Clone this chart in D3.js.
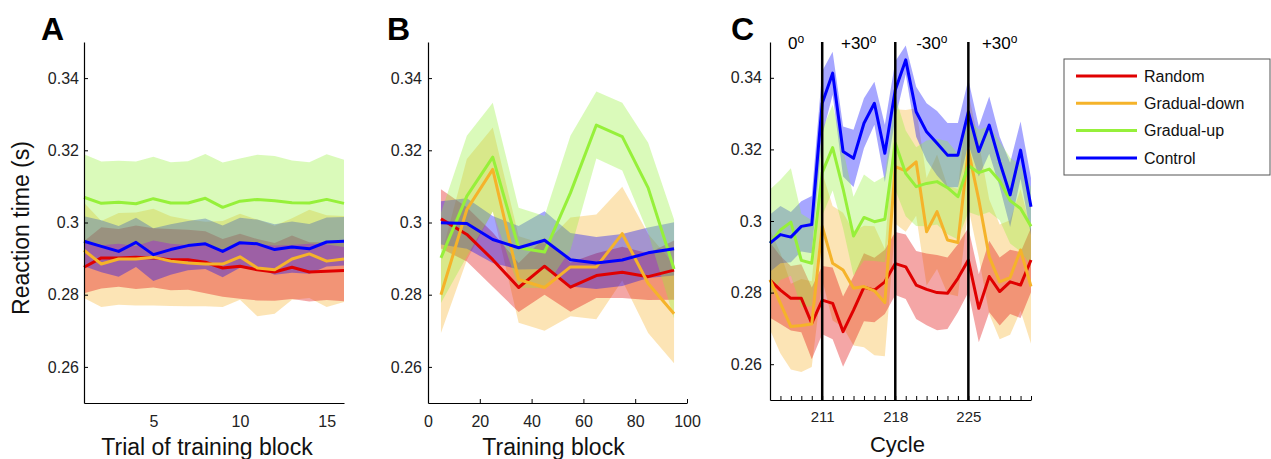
<!DOCTYPE html>
<html>
<head>
<meta charset="utf-8">
<script src="https://cdn.jsdelivr.net/npm/d3@7"></script>
<style>
  body { margin: 0; background: #fff; }
  svg { font-family: "Liberation Sans", Arial, sans-serif; }
</style>
</head>
<body>
<svg id="chart" width="1271" height="459"></svg>
<script>
// ---- data ----
var groups = ['Random', 'Gradual-down', 'Gradual-up', 'Control']
var yTicks = [0.26, 0.28, 0.3, 0.32, 0.34]

// A: trial of training block
var trialsA = [1, 2, 3, 4, 5, 6, 7, 8, 9, 10, 11, 12, 13, 14, 15, 16]
var randomA   = [0.2876, 0.2902, 0.2902, 0.2904, 0.2902, 0.2897, 0.2897, 0.2890, 0.2874, 0.2879, 0.2869, 0.2863, 0.2876, 0.2863, 0.2865, 0.2867]
var randomSeA = [0.0072, 0.0085, 0.0080, 0.0088, 0.0082, 0.0085, 0.0083, 0.0086, 0.0080, 0.0090, 0.0085, 0.0080, 0.0088, 0.0082, 0.0080, 0.0085]
var downA     = [0.2923, 0.2885, 0.2899, 0.2899, 0.2904, 0.2893, 0.2888, 0.2885, 0.2885, 0.2905, 0.2874, 0.2869, 0.2899, 0.2913, 0.2893, 0.2899]
var downSeA   = [0.0132, 0.0119, 0.0127, 0.0129, 0.0134, 0.0124, 0.0120, 0.0117, 0.0119, 0.0119, 0.0134, 0.0122, 0.0113, 0.0122, 0.0127, 0.0119]
var upA       = [0.3070, 0.3053, 0.3056, 0.3052, 0.3066, 0.3054, 0.3054, 0.3067, 0.3042, 0.3059, 0.3064, 0.3060, 0.3055, 0.3054, 0.3064, 0.3053]
var upSeA     = [0.0119, 0.0116, 0.0115, 0.0117, 0.0116, 0.0113, 0.0116, 0.0123, 0.0124, 0.0118, 0.0124, 0.0124, 0.0117, 0.0113, 0.0125, 0.0121]
var controlA   = [0.2948, 0.2934, 0.2920, 0.2945, 0.2911, 0.2925, 0.2936, 0.2941, 0.2920, 0.2944, 0.2941, 0.2925, 0.2932, 0.2927, 0.2946, 0.2948]
var controlSeA = [0.0069, 0.0072, 0.0070, 0.0068, 0.0073, 0.0070, 0.0068, 0.0070, 0.0072, 0.0069, 0.0067, 0.0070, 0.0071, 0.0069, 0.0068, 0.0067]
var xTicksA = [5, 10, 15]

// B: training block
var blocksB = [5, 15, 25, 35, 45, 55, 65, 75, 85, 95]
var randomB    = [0.3010, 0.2967, 0.2897, 0.2820, 0.2879, 0.2821, 0.2853, 0.2862, 0.2850, 0.2868]
var randomSeB  = [0.0082, 0.0075, 0.0075, 0.0068, 0.0079, 0.0068, 0.0062, 0.0071, 0.0065, 0.0082]
var downB      = [0.2800, 0.3036, 0.3147, 0.2842, 0.2820, 0.2877, 0.2877, 0.2969, 0.2831, 0.2747]
var downSeB    = [0.0106, 0.0140, 0.0116, 0.0120, 0.0120, 0.0137, 0.0145, 0.0130, 0.0137, 0.0137]
var upB        = [0.2902, 0.3073, 0.3181, 0.2930, 0.2918, 0.3082, 0.3270, 0.3238, 0.3096, 0.2871]
var upSeB      = [0.0125, 0.0167, 0.0151, 0.0111, 0.0100, 0.0158, 0.0093, 0.0094, 0.0125, 0.0137]
var controlB   = [0.2999, 0.2997, 0.2953, 0.2930, 0.2951, 0.2897, 0.2888, 0.2896, 0.2916, 0.2927]
var controlSeB = [0.0060, 0.0070, 0.0065, 0.0060, 0.0080, 0.0074, 0.0072, 0.0072, 0.0070, 0.0074]
var xTicksB = [0, 20, 40, 60, 80, 100]

// C: cycle
var cyclesC = [206, 207, 208, 209, 210, 211, 212, 213, 214, 215, 216, 217, 218,
               219, 220, 221, 222, 223, 224, 225, 226, 227, 228, 229, 230, 231]
var randomC    = [0.2835, 0.2807, 0.2784, 0.2784, 0.2714, 0.2779, 0.2770, 0.2691, 0.2751, 0.2815, 0.2807, 0.2830, 0.2881,
                  0.2872, 0.2821, 0.2809, 0.2800, 0.2798, 0.2840, 0.2891, 0.2756, 0.2845, 0.2803, 0.2830, 0.2821, 0.2891]
var randomSeC  = [0.0105, 0.0095, 0.0090, 0.0095, 0.0100, 0.0095, 0.0100, 0.0098, 0.0095, 0.0095, 0.0090, 0.0090, 0.0088,
                  0.0090, 0.0095, 0.0100, 0.0105, 0.0100, 0.0095, 0.0090, 0.0095, 0.0100, 0.0095, 0.0090, 0.0092, 0.0090]
var downC      = [0.2836, 0.2770, 0.2705, 0.2708, 0.2712, 0.2985, 0.2882, 0.2863, 0.2812, 0.2817, 0.2805, 0.2772, 0.3152,
                  0.3140, 0.3165, 0.2970, 0.3026, 0.2947, 0.2940, 0.3198, 0.3059, 0.2900, 0.2830, 0.2842, 0.2919, 0.2817]
var downSeC    = [0.014, 0.014, 0.012, 0.013, 0.012, 0.015, 0.016, 0.016, 0.016, 0.017, 0.018, 0.015, 0.016,
                  0.017, 0.015, 0.015, 0.016, 0.015, 0.015, 0.016, 0.016, 0.016, 0.016, 0.016, 0.017, 0.016]
var upC        = [0.2938, 0.2975, 0.2997, 0.2890, 0.2882, 0.3135, 0.3205, 0.3090, 0.2958, 0.3010, 0.2998, 0.3005, 0.3217,
                  0.3133, 0.3096, 0.3105, 0.3110, 0.3093, 0.3068, 0.3155, 0.3135, 0.3145, 0.3112, 0.3057, 0.3035, 0.2985]
var upSeC      = [0.015, 0.014, 0.015, 0.013, 0.012, 0.012, 0.012, 0.011, 0.011, 0.012, 0.011, 0.012, 0.013,
                  0.012, 0.011, 0.012, 0.012, 0.013, 0.012, 0.013, 0.012, 0.012, 0.011, 0.012, 0.012, 0.011]
var controlC   = [0.2938, 0.2962, 0.2955, 0.2985, 0.2990, 0.3329, 0.3413, 0.3194, 0.3175, 0.3273, 0.3329, 0.3189, 0.3366,
                  0.3450, 0.3305, 0.3249, 0.3217, 0.3184, 0.3184, 0.3305, 0.3194, 0.3268, 0.3165, 0.3073, 0.3198, 0.3040]
var controlSeC = [0.008, 0.008, 0.007, 0.007, 0.008, 0.009, 0.006, 0.007, 0.008, 0.007, 0.006, 0.008, 0.008,
                  0.004, 0.007, 0.008, 0.009, 0.009, 0.009, 0.009, 0.007, 0.008, 0.007, 0.009, 0.008, 0.008]
var xTicksC = [211, 218, 225]
var phaseEdges = [206, 211, 218, 225, 231]
var phaseLabels = ['0', '+30', '-30', '+30']

var colors = ['#e00000', '#f5b32a', '#96f03a', '#0000ff']
var bandOpacity = 0.35
// stacking of the shaded bands: gradual-down, random, control, gradual-up
var bandOrder = [1, 0, 3, 2]

var svg = d3.select('#chart')

function drawPanel(p) {
  var x = d3.scaleLinear().domain(p.xDomain).range(p.xRange)
  var y = d3.scaleLinear().domain([0.25, 0.35]).range(p.yRange)
  var g = svg.append('g')

  // shaded error bands first, then the mean lines on top
  var bands = g.append('g')
  bandOrder.forEach(function(k) {
    var s = p.series[k]
    var pts = p.xs.map(function(v, i) { return { x: v, m: s.mean[i], se: s.se[i] } })
    bands.append('path')
      .datum(pts)
      .attr('fill', colors[k])
      .attr('fill-opacity', bandOpacity)
      .attr('d', d3.area()
        .x(function(d) { return x(d.x) })
        .y0(function(d) { return y(d.m - d.se) })
        .y1(function(d) { return y(d.m + d.se) }))
  })

  var lines = g.append('g')
  p.series.forEach(function(s, k) {
    var pts = p.xs.map(function(v, i) { return { x: v, m: s.mean[i] } })
    lines.append('path')
      .datum(pts)
      .attr('fill', 'none')
      .attr('stroke', colors[k])
      .attr('stroke-width', 3)
      .attr('stroke-linejoin', 'round')
      .attr('d', d3.line()
        .x(function(d) { return x(d.x) })
        .y(function(d) { return y(d.m) }))
  })

  // y axis
  var yAxis = g.append('g')
    .attr('transform', 'translate(' + p.xRange[0] + ',0)')
    .call(d3.axisLeft(y).tickValues(yTicks).tickFormat(d3.format('~g'))
      .tickSize(-4).tickSizeOuter(0).tickPadding(p.yPad))
  yAxis.selectAll('text').attr('font-size', 16).attr('fill', '#222')
    .attr('font-family', '"Liberation Sans", Arial, sans-serif')

  // x axis
  var xAxis = g.append('g')
    .attr('transform', 'translate(0,' + p.yRange[0] + ')')
    .call(d3.axisBottom(x).tickValues(p.xTickVals).tickFormat(p.xFormat)
      .tickSize(p.xTickSize).tickSizeOuter(0).tickPadding(p.xPad))
  xAxis.selectAll('text').attr('font-size', p.xFont).attr('fill', '#222')
    .attr('font-family', '"Liberation Sans", Arial, sans-serif')

  g.selectAll('.domain').attr('stroke', '#000').attr('stroke-width', 1.2)
  g.selectAll('.tick line').attr('stroke', '#000')

  // panel letter and x title
  g.append('text').attr('x', p.letterX).attr('y', 40)
    .attr('font-size', 32).attr('font-weight', 'bold').text(p.letter)
  g.append('text').attr('x', (p.xRange[0] + p.xRange[1]) / 2 + p.titleShift).attr('y', p.titleY)
    .attr('text-anchor', 'middle').attr('font-size', p.titleFont).attr('fill', '#111').text(p.title)

  return { x: x, y: y, g: g }
}

drawPanel({
  xs: trialsA, xDomain: [1, 16], xRange: [84, 344], yRange: [403, 42],
  series: [
    { mean: randomA, se: randomSeA }, { mean: downA, se: downSeA },
    { mean: upA, se: upSeA }, { mean: controlA, se: controlSeA }],
  xTickVals: xTicksA, xFormat: d3.format('d'), xTickSize: 0, xPad: 13, xFont: 16, yPad: 5,
  letter: 'A', letterX: 41, title: 'Trial of training block', titleY: 455, titleFont: 23, titleShift: -7
})

drawPanel({
  xs: blocksB, xDomain: [0, 100], xRange: [428, 687], yRange: [403, 42],
  series: [
    { mean: randomB, se: randomSeB }, { mean: downB, se: downSeB },
    { mean: upB, se: upSeB }, { mean: controlB, se: controlSeB }],
  xTickVals: xTicksB, xFormat: d3.format('d'), xTickSize: -4, xPad: 13, xFont: 16, yPad: 6,
  letter: 'B', letterX: 387, title: 'Training block', titleY: 455, titleFont: 23, titleShift: -4
})

var pc = drawPanel({
  xs: cyclesC, xDomain: [206, 231], xRange: [770, 1031], yRange: [400, 42],
  series: [
    { mean: randomC, se: randomSeC }, { mean: downC, se: downSeC },
    { mean: upC, se: upSeC }, { mean: controlC, se: controlSeC }],
  xTickVals: cyclesC,
  xFormat: function(d) { return xTicksC.indexOf(d) >= 0 ? d : '' },
  xTickSize: -4, xPad: 11, xFont: 15, yPad: 8,
  letter: 'C', letterX: 731, title: 'Cycle', titleY: 452, titleFont: 22, titleShift: -3
})

// shared y title
svg.append('text')
  .attr('transform', 'translate(29,228) rotate(-90)')
  .attr('text-anchor', 'middle').attr('font-size', 23).attr('fill', '#111')
  .text('Reaction time (s)')

// perturbation boundaries in C
pc.g.selectAll('.phase-line')
  .data(xTicksC)
  .enter().append('line')
  .attr('class', 'phase-line')
  .attr('x1', function(d) { return pc.x(d) }).attr('x2', function(d) { return pc.x(d) })
  .attr('y1', pc.y(0.35)).attr('y2', pc.y(0.25))
  .attr('stroke', '#000').attr('stroke-width', 2.5)

var phase = pc.g.selectAll('.phase-label')
  .data(phaseLabels)
  .enter().append('text')
  .attr('class', 'phase-label')
  .attr('x', function(d, i) { return (pc.x(phaseEdges[i]) + pc.x(phaseEdges[i + 1])) / 2 })
  .attr('y', 49)
  .attr('text-anchor', 'middle')
  .attr('font-size', 17)
phase.append('tspan').text(function(d) { return d })
phase.append('tspan').attr('dy', -6).attr('font-size', 12).text('o')

// legend
var legend = svg.append('g').attr('transform', 'translate(1064,59)')
legend.append('rect').attr('width', 206).attr('height', 116)
  .attr('fill', '#fff').attr('stroke', '#555').attr('stroke-width', 1)
groups.forEach(function(name, i) {
  var ly = 17 + i * 27.3
  legend.append('line').attr('x1', 12).attr('x2', 73).attr('y1', ly).attr('y2', ly)
    .attr('stroke', colors[i]).attr('stroke-width', 3)
  legend.append('text').attr('x', 80).attr('y', ly).attr('dy', '0.35em')
    .attr('font-size', 16).attr('fill', '#111').text(name)
})
</script>
</body>
</html>
